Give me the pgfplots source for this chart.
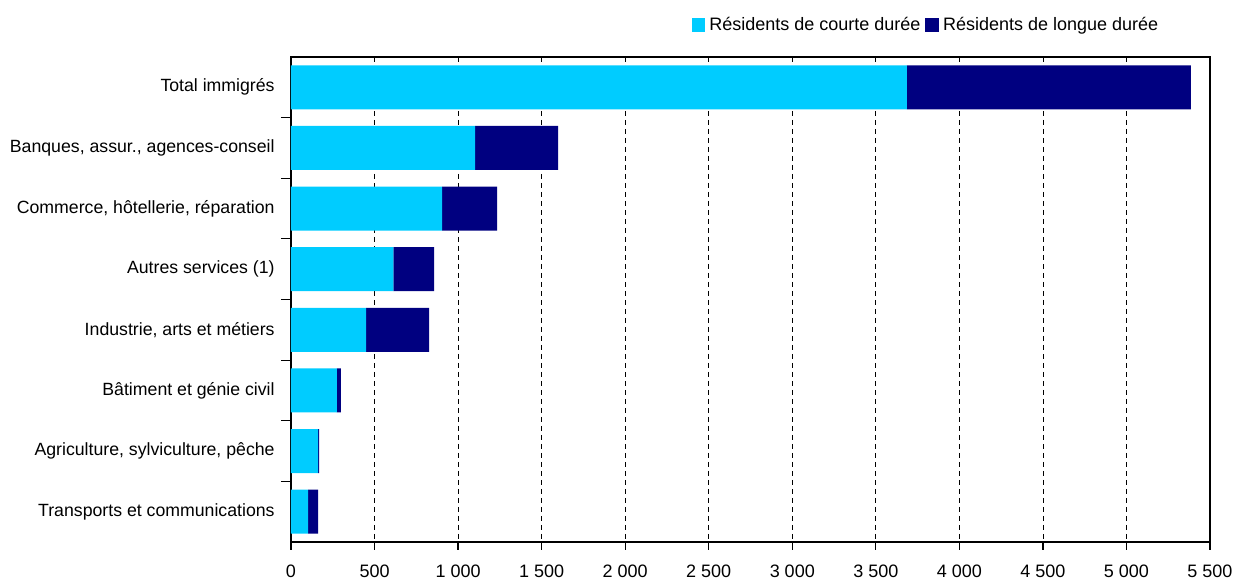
\documentclass[border=0pt]{standalone}
\usepackage{fontspec}
\setmainfont{Liberation Sans}
\usepackage{pgfplots}
\pgfplotsset{compat=1.18}
\definecolor{court}{HTML}{00CCFF}
\definecolor{long}{HTML}{000080}

\begin{document}
\fontsize{9}{10}\selectfont
\begin{tikzpicture}
\begin{axis}[
  scale only axis, width=459.5pt, height=242.5pt,
  xbar stacked, bar width=22pt,
  xmin=0, xmax=5500, xtick={0,500,...,5500},
  ymin=-0.5, ymax=7.5, y dir=reverse,
  ytick={0,...,7},
  yticklabels={Total immigrés, {Banques, assur., agences-conseil}, {Commerce, hôtellerie, réparation}, Autres services (1), {Industrie, arts et métiers}, Bâtiment et génie civil, {Agriculture, sylviculture, pêche}, Transports et communications},
  minor ytick={0.5,1.5,...,6.5},
  major y tick style={draw=none},
  tick align=outside, major tick length=4pt, minor tick length=5pt,
  xtick pos=bottom, ytick pos=left,
  xmajorgrids, major x grid style={black, dash pattern=on 2.5pt off 2pt, line width=0.4pt},
  axis line style={black, line width=0.6pt},
  tick style={black, line width=0.6pt},
  /pgf/number format/.cd, 1000 sep={\ }, assume math mode=true, /pgfplots/.cd,
  xticklabel style={font=\fontsize{9}{10}\selectfont, yshift=-4.5pt},
  yticklabel style={font=\fontsize{8.85}{10}\selectfont, xshift=-1pt},
  legend style={at={(0.955,1.066)}, anchor=east, draw=none, legend columns=2,
    font=\fontsize{9}{10}\selectfont, /tikz/every even column/.append style={column sep=0.5pt}},
  legend image code/.code={\fill[#1] (0pt,-3.4pt) rectangle (6.8pt,3.4pt);},
]
\addplot[fill=court, draw=none] coordinates {(3686,0) (1102,1) (905,2) (612,3) (450,4) (275,5) (163,6) (103,7)};
\addplot[fill=long, draw=none] coordinates {(1699,0) (497,1) (329,2) (245,3) (377,4) (24,5) (6,6) (60,7)};
\legend{Résidents de courte durée, Résidents de longue durée}
\end{axis}
\pgfresetboundingbox
\path[use as bounding box] ([xshift=-145.5pt,yshift=-20.5pt]current axis.south west) rectangle ([xshift=13pt,yshift=28.5pt]current axis.north east);
\end{tikzpicture}
\end{document}
